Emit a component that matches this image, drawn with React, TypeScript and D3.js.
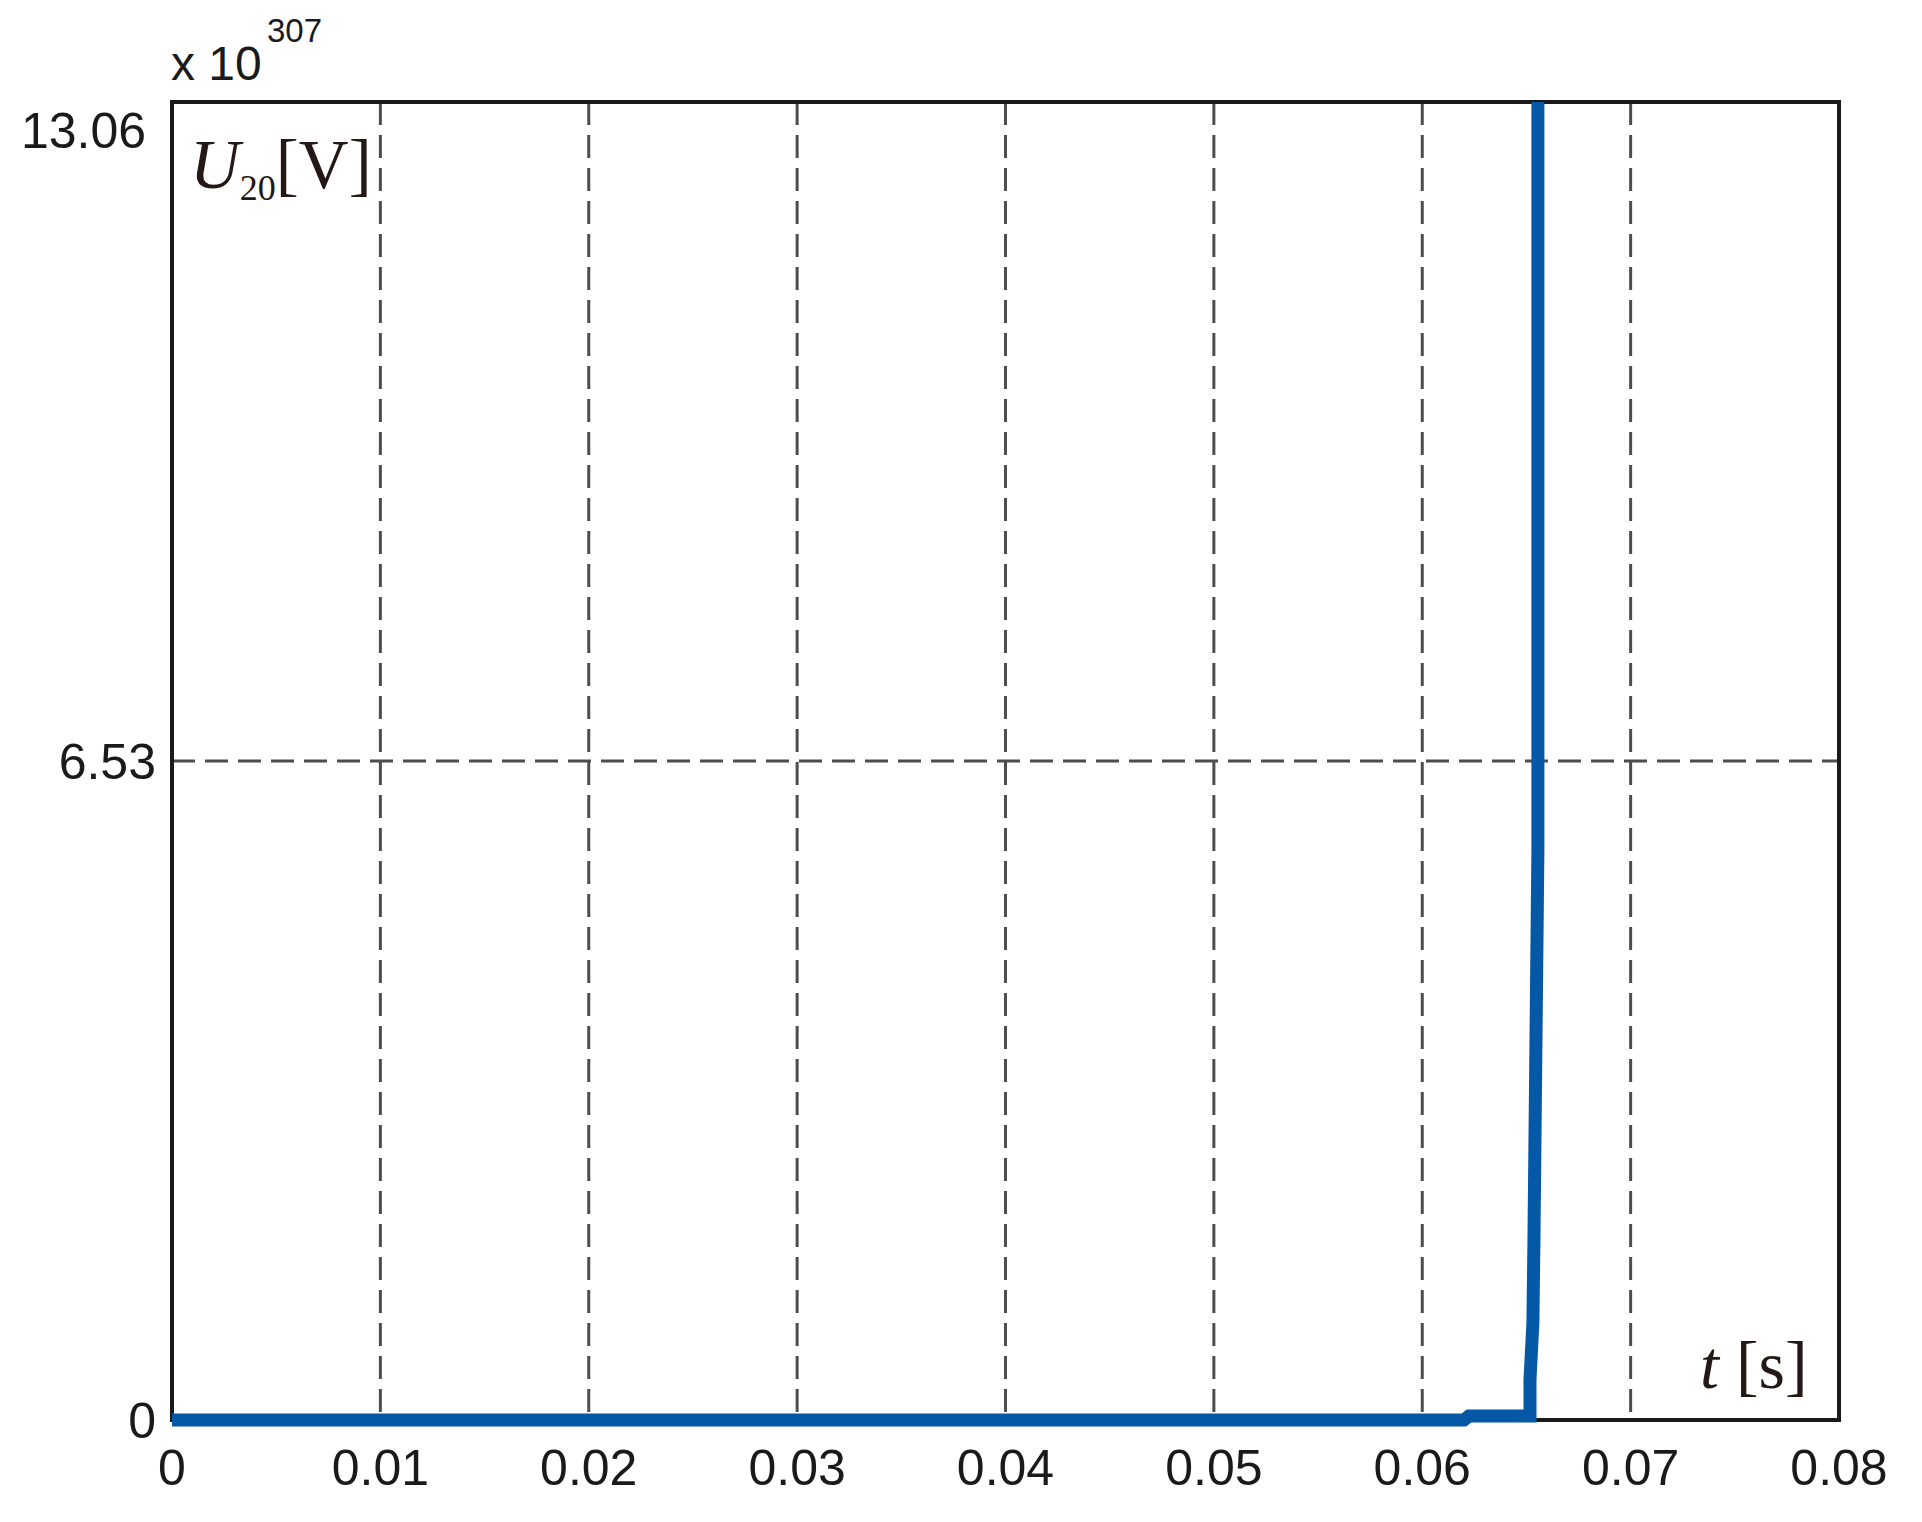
import React from "react";
import * as d3 from "d3";

// ---- data ----
const timeSeconds = [0, 0.062, 0.06224, 0.06517, 0.06517, 0.06531, 0.06536, 0.06555, 0.06555];
const voltage = [0, 0, 0.04, 0.04, 0.4, 0.96, 1.78, 5.65, 13.06];
const xTicks = [0, 0.01, 0.02, 0.03, 0.04, 0.05, 0.06, 0.07, 0.08];
const xTickLabels = ["0", "0.01", "0.02", "0.03", "0.04", "0.05", "0.06", "0.07", "0.08"];
const yTicks = [0, 6.53, 13.06];
const yTickLabels = ["0", "6.53", "13.06"];
const exponentLabel = "307";

const W = 1922;
const H = 1522;
const M = { left: 172, right: 1839, top: 102, bottom: 1420 };

export default function App() {
  const x = d3.scaleLinear().domain([0, 0.08]).range([M.left, M.right]);
  const y = d3.scaleLinear().domain([0, 13.06]).range([M.bottom, M.top]);
  const pts: [number, number][] = timeSeconds.map((t, i) => [t, voltage[i]]);
  const line = d3
    .line<[number, number]>()
    .x((d) => x(d[0]))
    .y((d) => y(d[1]));
  const tickFont = "'Liberation Sans', Arial, Helvetica, sans-serif";
  const serif = "'Liberation Serif', 'Times New Roman', serif";
  const gridColor = "#4d4d4d";
  return (
    <div>
      <style>{`body{margin:0;background:#fff}`}</style>
      <svg width={W} height={H} viewBox={`0 0 ${W} ${H}`} style={{ display: "block" }}>
        <rect x={0} y={0} width={W} height={H} fill="#fff" />
        <defs>
          <clipPath id="plotclip">
            <rect x={M.left} y={M.top} width={M.right - M.left} height={M.bottom - M.top + 10} />
          </clipPath>
        </defs>
        {/* vertical grid */}
        {xTicks
          .filter((t) => t > 0 && t < 0.08)
          .map((t) => (
            <line
              key={"gx" + t}
              x1={x(t)}
              x2={x(t)}
              y1={M.top}
              y2={M.bottom}
              stroke={gridColor}
              strokeWidth={3}
              strokeDasharray="23,10"
            />
          ))}
        {/* horizontal grid */}
        {yTicks
          .filter((v) => v > 0 && v < 13.06)
          .map((v) => (
            <line
              key={"gy" + v}
              x1={M.left}
              x2={M.right}
              y1={y(v)}
              y2={y(v)}
              stroke={gridColor}
              strokeWidth={3}
              strokeDasharray="23,10"
            />
          ))}
        {/* frame */}
        <rect
          x={M.left}
          y={M.top}
          width={M.right - M.left}
          height={M.bottom - M.top}
          fill="none"
          stroke="#1a1a1a"
          strokeWidth={4}
        />
        {/* data line */}
        <path
          d={line(pts) || ""}
          fill="none"
          stroke="#0558a5"
          strokeWidth={13}
          strokeLinejoin="miter"
          clipPath="url(#plotclip)"
        />
        {/* x tick labels */}
        {xTicks.map((t, i) => (
          <text
            key={"xl" + t}
            x={x(t)}
            y={M.bottom + 65}
            textAnchor="middle"
            fontFamily={tickFont}
            fontSize={50}
            fill="#1a1a1a"
          >
            {xTickLabels[i]}
          </text>
        ))}
        {/* y tick labels */}
        {yTicks.map((v, i) => {
          const isTop = i === yTicks.length - 1;
          return (
            <text
              key={"yl" + v}
              x={isTop ? 146 : 156}
              y={y(v) + (isTop ? 28 : 0)}
              dy="0.35em"
              textAnchor="end"
              fontFamily={tickFont}
              fontSize={50}
              fill="#1a1a1a"
            >
              {yTickLabels[i]}
            </text>
          );
        })}
        {/* exponent */}
        <text x={171} y={80} fontFamily={tickFont} fontSize={48} fill="#1a1a1a">
          x 10
        </text>
        <text x={267} y={42} fontFamily={tickFont} fontSize={33} fill="#1a1a1a">
          {exponentLabel}
        </text>
        {/* y axis title */}
        <text x={190} y={188} fontFamily={serif} fontSize={69} fill="#231815">
          <tspan fontStyle="italic">U</tspan>
          <tspan fontSize={36} dy={12}>
            20
          </tspan>
          <tspan dy={-12}>[V]</tspan>
        </text>
        {/* x axis title */}
        <text x={1700} y={1388} fontFamily={serif} fontSize={68} fill="#231815">
          <tspan fontStyle="italic">t</tspan>
          <tspan> [s]</tspan>
        </text>
      </svg>
    </div>
  );
}
